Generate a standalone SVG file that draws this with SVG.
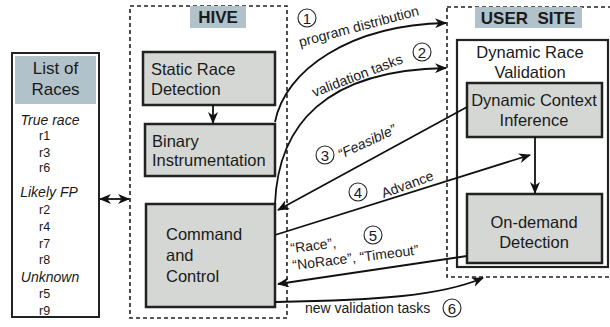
<svg xmlns="http://www.w3.org/2000/svg" width="610" height="327" viewBox="0 0 610 327">
<defs>
<marker id="ah" viewBox="0 0 12 10" refX="11" refY="5" markerWidth="12" markerHeight="10" markerUnits="userSpaceOnUse" orient="auto-start-reverse">
<path d="M0,0 L12,5 L0,10 L3.5,5 z" fill="#111"/>
</marker>
<style>
text{font-family:"Liberation Sans",Arial,sans-serif;fill:#1a1a1a}
.box{fill:#d5d7d5;stroke:#222;stroke-width:2.5}
.wbox{fill:#fff;stroke:#222;stroke-width:2.2}
.dash{fill:none;stroke:#222;stroke-width:1.6;stroke-dasharray:4 3}
.lab{fill:#b2c2ca}
.t{font-size:16.5px}
.tc{font-size:16.5px;text-anchor:middle}
.hd{font-size:17px;font-weight:bold;text-anchor:middle}
.it{font-size:14px;font-style:italic;text-anchor:middle}
.r{font-size:12.5px}
.lb{font-size:14px}
.num{font-size:15px;text-anchor:middle}
.con{fill:none;stroke:#111;stroke-width:1.8}
.cir{fill:#fff;stroke:#222;stroke-width:1.1}
</style>
</defs>

<g id="list">
<rect x="12" y="53" width="87" height="264" fill="#fff" stroke="#222" stroke-width="2"/>
<rect class="lab" x="15" y="56" width="81" height="48"/>
<text class="tc" x="55.5" y="74" style="font-size:17px">List of</text>
<text class="tc" x="55.5" y="95" style="font-size:17px">Races</text>
<text class="it" x="50" y="125">True race</text>
<text class="r" x="39" y="139.5">r1</text>
<text class="r" x="39" y="156.5">r3</text>
<text class="r" x="39" y="171.5">r6</text>
<text class="it" x="49" y="197">Likely FP</text>
<text class="r" x="39" y="213.5">r2</text>
<text class="r" x="39" y="230.5">r4</text>
<text class="r" x="39" y="247.5">r7</text>
<text class="r" x="39" y="263.5">r8</text>
<text class="it" x="50" y="282">Unknown</text>
<text class="r" x="39" y="297.5">r5</text>
<text class="r" x="39" y="314.5">r9</text>
</g>

<g id="hive">
<rect class="dash" x="130" y="6" width="157" height="312"/>
<rect class="lab" x="190" y="6" width="56" height="22"/>
<text class="hd" x="218" y="23">HIVE</text>
</g>

<g id="static">
<rect class="box" x="143" y="52" width="132" height="53"/>
<text class="t" x="151" y="75">Static Race</text>
<text class="t" x="151" y="95">Detection</text>
</g>

<g id="binary">
<rect class="box" x="145" y="124" width="130" height="52"/>
<text class="t" x="152" y="147">Binary</text>
<text class="t" x="152" y="166">Instrumentation</text>
</g>

<g id="command">
<rect class="box" x="146" y="204" width="129" height="103"/>
<text class="t" x="166" y="240">Command</text>
<text class="t" x="166" y="261">and</text>
<text class="t" x="166" y="282">Control</text>
</g>

<g id="usersite">
<rect class="dash" x="447" y="7" width="170" height="270"/>
<rect class="lab" x="475" y="7" width="107" height="21"/>
<text class="hd" x="528" y="24" xml:space="preserve">USER  SITE</text>
</g>

<g id="validation">
<rect class="wbox" x="457" y="40" width="151" height="227"/>
<text class="tc" x="530" y="58">Dynamic Race</text>
<text class="tc" x="530" y="78">Validation</text>
</g>

<g id="context">
<rect class="box" x="467" y="83" width="135" height="54"/>
<text class="tc" x="534" y="106">Dynamic Context</text>
<text class="tc" x="534" y="126">Inference</text>
</g>

<g id="ondemand">
<rect class="box" x="467" y="194" width="135" height="69"/>
<text class="tc" x="534" y="228">On-demand</text>
<text class="tc" x="534" y="248">Detection</text>
</g>

<g id="connectors">
<line class="con" x1="100" y1="199" x2="129" y2="199" marker-start="url(#ah)" marker-end="url(#ah)"/>
<line class="con" x1="213" y1="105" x2="213" y2="123" marker-end="url(#ah)"/>
<line class="con" x1="535" y1="137" x2="535" y2="193" marker-end="url(#ah)"/>
<path class="con" d="M275,122 C285,70 350,25 446,23" marker-end="url(#ah)"/>
<path class="con" d="M275,204 C278,125 325,70 446,68" marker-end="url(#ah)"/>
<line class="con" x1="467" y1="107" x2="278" y2="210" marker-end="url(#ah)"/>
<line class="con" x1="275" y1="235" x2="530" y2="155" marker-end="url(#ah)"/>
<line class="con" x1="467" y1="256" x2="278" y2="284" marker-end="url(#ah)"/>
<path class="con" d="M275,302 C380,300 440,296 483,278" marker-end="url(#ah)"/>
</g>

<g id="labels">
<circle class="cir" cx="307" cy="18" r="9"/>
<text class="num" x="307" y="23.5">1</text>
<text class="lb" text-anchor="middle" transform="translate(360,31) rotate(-15)">program distribution</text>
<circle class="cir" cx="422" cy="52" r="9"/>
<text class="num" x="422" y="57.5">2</text>
<text class="lb" text-anchor="middle" transform="translate(359,80) rotate(-21)">validation tasks</text>
<circle class="cir" cx="325" cy="155" r="9"/>
<text class="num" x="325" y="160.5">3</text>
<text class="lb" font-style="italic" text-anchor="middle" transform="translate(369,146) rotate(-25)">“Feasible”</text>
<circle class="cir" cx="358" cy="192" r="9"/>
<text class="num" x="358" y="197.5">4</text>
<text class="lb" text-anchor="middle" transform="translate(409,189) rotate(-20)">Advance</text>
<circle class="cir" cx="373" cy="235" r="9"/>
<text class="num" x="373" y="240.5">5</text>
<text class="lb" transform="translate(291,253) rotate(-7)">“Race”,</text>
<text class="lb" transform="translate(293,270) rotate(-7)">“NoRace”, “Timeout”</text>
<text class="lb" x="305" y="313">new validation tasks</text>
<circle class="cir" cx="452" cy="308" r="9"/>
<text class="num" x="452" y="313.5">6</text>
</g>
</svg>
